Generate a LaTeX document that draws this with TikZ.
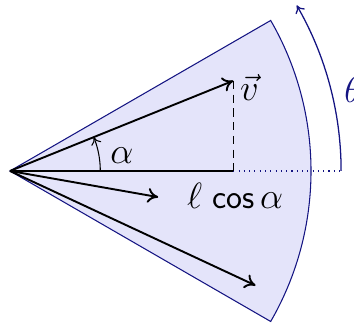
\documentclass[tikz,border=0pt]{standalone}
\usetikzlibrary{arrows.meta}
\definecolor{navy}{RGB}{20,20,130}
\definecolor{sectorfill}{RGB}{228,228,250}
\begin{document}
\begin{tikzpicture}[
  vec/.style={line width=0.9pt,-{To[length=5pt,width=7pt]}},
  thin arrow/.style={-{To[length=3.5pt,width=5pt]}},
  lbl/.style={font=\fontsize{16}{19}\selectfont, inner sep=1pt},
]
\useasboundingbox (-0.166,-2.56) rectangle (5.714,2.84);
\coordinate (O) at (0,0);
\coordinate (V) at (22:4);
\coordinate (F) at ({4*cos(22)},0);
\coordinate (E) at (5.5,0);
\coordinate (A) at (1.5,0);
% sector
\filldraw[fill=sectorfill, draw=navy, line width=0.5pt] (O) -- (-30:5) arc[start angle=-30, end angle=30, radius=5] -- cycle;
% dotted extension
\draw[navy, dotted, line width=0.5pt] (F) -- (E);
% theta arc
\draw[navy, line width=0.6pt, -{To[length=3.5pt,width=5pt]}] (E) arc[start angle=0, end angle=30, radius=5.5];
\node[lbl, navy] (theta) at (5.7,1.35) {$\theta$};
% main lines
\draw[line width=0.9pt] (O) -- (F);
\draw[dash pattern=on 4pt off 2.5pt, semithick] (V) -- (F);
\draw[vec] (O) -- (V);
\draw[vec] (O) -- (-10:2.5);
\draw[vec] (O) -- (-25:4.5);
% alpha arc
\draw[thin arrow, line width=0.5pt] (A) arc[start angle=0, end angle=22, radius=1.5];
\node[lbl] (alpha) at (1.86,0.25) {$\alpha$};
\node[lbl, anchor=west] (v) at ([xshift=2pt,yshift=-3pt]V) {$\vec{v}$};
\node[lbl] (lc) at (3.74,-0.42) {$\ell$\ \textsf{cos}\,$\alpha$};
\end{tikzpicture}
\end{document}
